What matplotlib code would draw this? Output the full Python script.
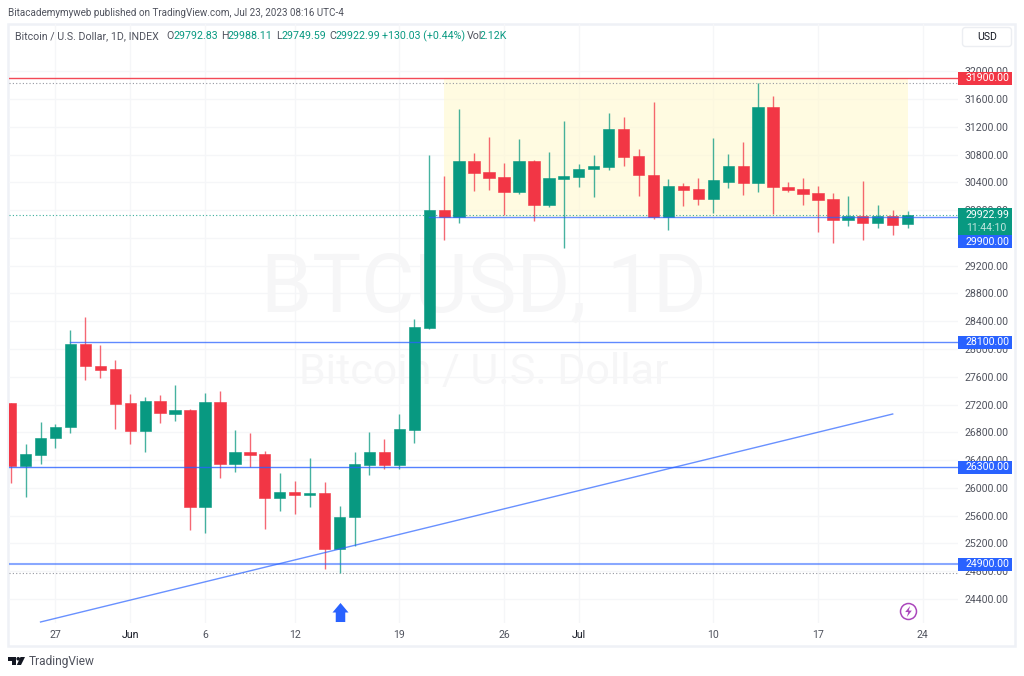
import matplotlib
matplotlib.use('Agg')
import matplotlib.pyplot as plt
import matplotlib.dates as mdates
from matplotlib.patches import Rectangle, FancyBboxPatch, Polygon, Circle
from matplotlib.path import Path
import numpy as np

plt.rcParams['font.family'] = ['Roboto', 'DejaVu Sans']

GREEN = '#089981'
RED = '#F23645'
BLUE = '#2962FF'

# candles, May 24 to Jul 23 2023
first_day = '2023-05-24'
last_day = '2023-07-24'
opens = [27227, 26320, 26478, 26714, 26872, 28077, 27760, 27707, 27227, 26814,
         27251, 27069, 27117, 25725, 27237, 26344, 26512, 26488, 25850, 25946,
         25902, 25931, 25120, 25576, 26330, 26512, 26330, 26838, 28302, 30002,
         29901, 30707, 30544, 30472, 30266, 30707, 30078, 30448, 30472, 30587,
         30621, 31163, 30779, 30510, 29901, 30352, 30299, 30165, 30410, 30635,
         30386, 31485, 30338, 30299, 30251, 30155, 29858, 29920, 29810, 29920,
         29792.83]
highs = [27227, 26627, 26949, 26920, 28269, 28466, 28058, 27842, 27347, 27304,
         27338, 27477, 27141, 27362, 27390, 26834, 26786, 26536, 26214, 26104,
         26426, 26090, 25744, 26512, 26810, 26699, 27059, 28427, 30794, 30496,
         31451, 30822, 31053, 30674, 31019, 30722, 30832, 31288, 30659, 30794,
         31398, 31336, 30875, 31557, 30448, 30390, 30462, 31043, 30808, 30981,
         31826, 31643, 30410, 30462, 30347, 30251, 30203, 30424, 30069, 30002,
         29988.11]
lows = [26075, 25874, 26344, 26579, 26795, 27554, 27578, 26848, 26627, 26512,
        26930, 26968, 25394, 25355, 26147, 26234, 26296, 25403, 25662, 25629,
        25725, 24827, 24770, 25163, 26181, 26267, 26267, 26651, 28288, 29574,
        29819, 30275, 30290, 29930, 30232, 29848, 30050, 29450, 30338, 30189,
        30578, 30630, 30203, 29872, 29718, 30064, 30078, 29963, 30323, 30222,
        30266, 29944, 30266, 30074, 29685, 29522, 29771, 29570, 29747, 29642,
        29749.59]
closes = [26320, 26488, 26723, 26872, 28077, 27750, 27698, 27208, 26824, 27251,
          27074, 27126, 25725, 27242, 26344, 26512, 26478, 25850, 25946, 25898,
          25931, 25120, 25586, 26339, 26512, 26330, 26843, 28312, 30002, 29901,
          30707, 30539, 30462, 30266, 30707, 30078, 30462, 30486, 30597, 30630,
          31163, 30770, 30501, 29906, 30352, 30290, 30165, 30429, 30635, 30386,
          31485, 30328, 30290, 30237, 30141, 29858, 29920, 29810, 29920, 29786,
          29922.99]

price_ticks = list(range(24400, 32400, 400))
time_ticks = ['2023-05-27', '2023-06-01', '2023-06-06', '2023-06-12', '2023-06-19',
              '2023-06-26', '2023-07-01', '2023-07-10', '2023-07-17', '2023-07-24']
time_labels = ['27', 'Jun', '6', '12', '19', '26', 'Jul', '10', '17', '24']

resistance = 31900
support = 29900
level_28100 = 28100
level_26300 = 26300
level_24900 = 24900
visible_high = 31826
visible_low = 24770
last_close = 29922.99
trend_dates = ['2023-05-26', '2023-07-22']
trend_prices = [24069, 27064]

W, H = 1024, 676
AX_L, AX_R, AX_T, AX_B = 9, 958, 24, 623
PX_PER_DAY = 14.95
PRICE_PER_PX = 14.4
FS = 7.6


def num(d):
    return mdates.date2num(np.datetime64(d))


fig = plt.figure(figsize=(W/100, H/100), dpi=100, facecolor='white')
ax = fig.add_axes([AX_L/W, 1 - AX_B/H, (AX_R-AX_L)/W, (AX_B-AX_T)/H], zorder=2)
bg = fig.add_axes([0, 0, 1, 1], zorder=1)
bg.set_xlim(0, W)
bg.set_ylim(H, 0)
bg.axis('off')
top = fig.add_axes([0, 0, 1, 1], zorder=3)
top.set_xlim(0, W)
top.set_ylim(H, 0)
top.axis('off')
top.patch.set_alpha(0)

# scales, tied to one day and one price in the picture
x0 = num('2023-05-27')
ax.set_xlim(x0 + (AX_L-55.5)/PX_PER_DAY, x0 + (AX_R-55.5)/PX_PER_DAY)
ax.set_ylim(31600 - (AX_B-99)*PRICE_PER_PX, 31600 + (99-AX_T)*PRICE_PER_PX)
for s in ax.spines.values():
    s.set_visible(False)
ax.set_axisbelow(True)
ax.patch.set_alpha(0)
ax.grid(True, color='#f5f6f8', lw=1)

ax.yaxis.tick_right()
ax.set_yticks(price_ticks)
ax.set_yticklabels([f'{p:.2f}' for p in price_ticks])
ax.tick_params(axis='y', length=0, pad=5, labelsize=FS, labelcolor='#50535e')
ax.set_xticks([num(t) for t in time_ticks])
ax.set_xticklabels(time_labels)
ax.tick_params(axis='x', length=0, pad=5, labelsize=FS, labelcolor='#50535e')
for lab in ax.get_xticklabels():
    if lab.get_text() in ('Jun', 'Jul'):
        lab.set_color('#131722')

# watermark
ax.text(0.5, 0.556, 'BTCUSD, 1D', transform=ax.transAxes, ha='center', va='center',
        fontsize=59, color='#f6f6f7', zorder=0.6)
ax.text(0.5, 0.418, 'Bitcoin / U.S. Dollar', transform=ax.transAxes, ha='center', va='center',
        fontsize=31, color='#f6f6f7', zorder=0.6)

# range box
ax.add_patch(Rectangle((num('2023-06-22'), support), num('2023-07-23') - num('2023-06-22'),
                       resistance - support, facecolor='#fff9d2', alpha=0.65, lw=0, zorder=1))

# dotted markers for last price and visible range
ax.axhline(visible_high, color='#9598a1', lw=0.8, ls=(0, (1, 2)), zorder=2)
ax.axhline(visible_low, color='#9598a1', lw=0.8, ls=(0, (1, 2)), zorder=2)
ax.axhline(last_close, color=GREEN, lw=0.8, ls=(0, (1, 2)), alpha=0.8, zorder=2)

# candles
dates = mdates.date2num(np.arange(first_day, last_day, dtype='datetime64[D]'))
opens, highs, lows, closes = map(np.array, (opens, highs, lows, closes))
colors = [GREEN if c >= o else RED for o, c in zip(opens, closes)]
ax.vlines(dates, lows, highs, colors=colors, lw=1.0, alpha=0.75, zorder=3)
ax.bar(dates, np.abs(closes - opens), bottom=np.minimum(opens, closes), width=0.76,
       color=colors, edgecolor=colors, lw=0.4, zorder=3.2)

# horizontal levels and trend line
ax.axhline(resistance, color=RED, lw=1.0, alpha=0.9, zorder=4)
ax.plot([num('2023-06-21'), ax.get_xlim()[1]], [support, support], color=BLUE, lw=1.0, alpha=0.7, zorder=4)
ax.plot([num('2023-05-28'), ax.get_xlim()[1]], [level_28100, level_28100], color=BLUE, lw=1.0, alpha=0.75, zorder=4)
ax.axhline(level_26300, color=BLUE, lw=1.0, alpha=0.8, zorder=4)
ax.axhline(level_24900, color=BLUE, lw=1.5, alpha=0.55, zorder=4)
ax.plot([num(d) for d in trend_dates], trend_prices, color=BLUE, lw=1.0, alpha=0.7, zorder=4)

# arrow mark on Jun 15
arrow = Path([(-0.42, 0), (0, 0.5), (0.42, 0), (0.25, 0), (0.25, -0.5), (-0.25, -0.5), (-0.25, 0), (-0.42, 0)])
ax.plot(num('2023-06-15'), 24213, marker=arrow, ms=13.7, color=BLUE, mew=0, zorder=5)

# bolt icon on Jul 23
ax.plot(num('2023-07-23'), 24227, marker='o', ms=11.5, mfc='white', mec='#ab47bc', mew=1.1, zorder=5)
bolt = Path([(0.15, 0.5), (-0.3, -0.05), (-0.02, -0.05), (-0.15, -0.5), (0.3, 0.08), (0.02, 0.08), (0.15, 0.5)])
ax.plot(num('2023-07-23'), 24227, marker=bolt, ms=8, color='#ab47bc', mew=0, zorder=5)


# price badges
def badge(center, height_px, color, zorder=6):
    h = height_px*PRICE_PER_PX
    ax.add_patch(Rectangle((1.0, center - h/2), 54/(AX_R-AX_L), h, transform=ax.get_yaxis_transform(),
                           facecolor=color, lw=0, clip_on=False, zorder=zorder))


def badge_text(price, label, color='white', zorder=7):
    ax.text(1 + 8/(AX_R-AX_L), price, label, transform=ax.get_yaxis_transform(), color=color,
            fontsize=FS, va='center', ha='left', clip_on=False, zorder=zorder)


for level, col in [(resistance, RED), (level_28100, BLUE), (level_26300, BLUE), (level_24900, BLUE)]:
    badge(level, 13, col)
    badge_text(level, f'{level:.2f}')

badge(last_close - 6*PRICE_PER_PX, 27, GREEN)
badge_text(last_close, f'{last_close:.2f}')
badge_text(last_close - 13*PRICE_PER_PX, '11:44:10', color='#bfe6de')
badge(support - 24.5*PRICE_PER_PX, 13, BLUE)
badge_text(support - 24.5*PRICE_PER_PX, f'{support:.2f}')

# frame around the chart
bg.add_patch(Rectangle((8, 23.5), 1007, 622, facecolor='white', edgecolor='#eff1f6', lw=1.8))
top.add_patch(FancyBboxPatch((962.5, 27.5), 49, 19, boxstyle='round,pad=0,rounding_size=3',
                             facecolor='white', edgecolor='#eceef2', lw=1))
top.text(987, 37, 'USD', ha='center', va='center', fontsize=FS, color='#131722')

# header
top.text(8, 12.5, 'Bitacademymyweb published on TradingView.com, Jul 23, 2023 08:16 UTC-4',
         fontsize=7.15, color='#50535e', va='center')
top.text(15, 36, 'Bitcoin / U.S. Dollar, 1D, INDEX', fontsize=7.7, color='#50535e', va='center')
for x, lab in [(166, 'O'), (221, 'H'), (276, 'L'), (329, 'C'), (467, 'Vol')]:
    top.text(x, 36, lab, fontsize=7.7, color='#50535e', va='center')
for x, val in [(173, '29792.83'), (228, '29988.11'), (281, '29749.59'), (335, '29922.99'),
               (382, '+130.03 (+0.44%)'), (480, '2.12K')]:
    top.text(x, 36, val, fontsize=7.7, color=GREEN, va='center')

# TradingView logo
top.add_patch(Polygon([(8, 657), (16, 657), (16, 665), (12, 665), (12, 660.5), (8, 660.5)], facecolor='#131722', lw=0))
top.add_patch(Circle((18.2, 658.8), 1.8, facecolor='#131722', lw=0))
top.add_patch(Polygon([(20.5, 657), (25, 657), (21, 665), (16.8, 665)], facecolor='#131722', lw=0))
top.text(28.5, 661.5, 'TradingView', fontsize=8.6, color='#50535e', va='center')

fig.savefig('out.png', dpi=100)
